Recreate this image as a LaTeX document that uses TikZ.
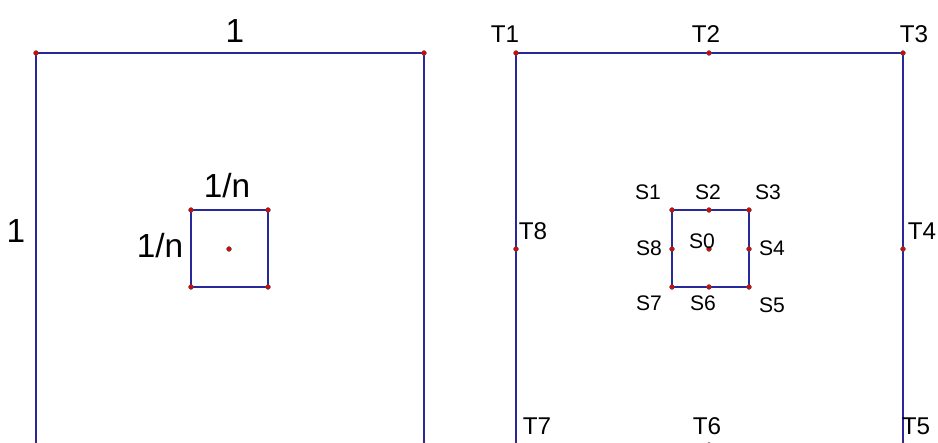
\documentclass[tikz,border=0pt]{standalone}
\usepackage{fontspec}
\setmainfont{Liberation Sans}
\definecolor{edgeblue}{RGB}{40,40,155}
\definecolor{dotred}{RGB}{230,0,0}

\begin{document}
\begin{tikzpicture}[x=0.02cm,y=-0.02cm,
  edge/.style={draw=edgeblue,line width=0.7pt},
  dot/.style={circle,fill=dotred,draw=black!70,line width=0.3pt,inner sep=0pt,minimum size=0.095cm},
  biglab/.style={font=\fontsize{19}{21}\selectfont,inner sep=0pt},
  tlab/.style={font=\fontsize{13.8}{15}\selectfont,inner sep=0pt},
  slab/.style={font=\fontsize{12}{14}\selectfont,inner sep=0pt}]

\clip (0,0) rectangle (938,443);

% left: unit square and small square
\coordinate (A1) at (36,53);
\coordinate (A2) at (424,53);
\coordinate (A3) at (424,445);
\coordinate (A4) at (36,445);
\coordinate (B1) at (191,210);
\coordinate (B2) at (268,210);
\coordinate (B3) at (268,287);
\coordinate (B4) at (191,287);
\coordinate (B0) at (229,249);

\draw[edge] (A1)--(A2)--(A3)--(A4)--cycle;
\draw[edge] (B1)--(B2)--(B3)--(B4)--cycle;

\foreach \p in {A1,A2,A3,A4,B1,B2,B3,B4,B0}
  \node[dot] at (\p) {};

\node[biglab] (top1) at (235,31) {1};
\node[biglab] (left1) at (16,231) {1};
\node[biglab] (topn) at (227,186) {1/n};
\node[biglab] (leftn) at (160,246) {1/n};

% right: points T and S
\coordinate (T1) at (516,53);
\coordinate (T2) at (709,53);
\coordinate (T3) at (903,53);
\coordinate (T4) at (903,249);
\coordinate (T5) at (903,445);
\coordinate (T6) at (709,445);
\coordinate (T7) at (516,445);
\coordinate (T8) at (516,249);
\coordinate (S1) at (672,210);
\coordinate (S2) at (709,210);
\coordinate (S3) at (749,210);
\coordinate (S4) at (749,249);
\coordinate (S5) at (749,287);
\coordinate (S6) at (709,287);
\coordinate (S7) at (672,287);
\coordinate (S8) at (672,249);
\coordinate (S0) at (709,249);

\draw[edge] (T1)--(T3)--(T5)--(T7)--cycle;
\draw[edge] (S1)--(S3)--(S5)--(S7)--cycle;

\foreach \p in {T1,T2,T3,T4,T5,T6,T7,T8,S1,S2,S3,S4,S5,S6,S7,S8,S0}
  \node[dot] at (\p) {};

\node[tlab] (lT1) at (505,34) {T1};
\node[tlab] (lT2) at (706,34) {T2};
\node[tlab] (lT3) at (914,34) {T3};
\node[tlab] (lT4) at (922,231) {T4};
\node[tlab] (lT5) at (916,426) {T5};
\node[tlab] (lT6) at (707,426) {T6};
\node[tlab] (lT7) at (537,426) {T7};
\node[tlab] (lT8) at (533,231) {T8};

\node[slab] (lS1) at (648,192) {S1};
\node[slab] (lS2) at (708,192) {S2};
\node[slab] (lS3) at (768,192) {S3};
\node[slab] (lS4) at (772,248) {S4};
\node[slab] (lS5) at (772,305) {S5};
\node[slab] (lS6) at (703,303) {S6};
\node[slab] (lS7) at (649,303) {S7};
\node[slab] (lS8) at (649,248) {S8};
\node[slab] (lS0) at (702,241) {S0};

\end{tikzpicture}
\end{document}
